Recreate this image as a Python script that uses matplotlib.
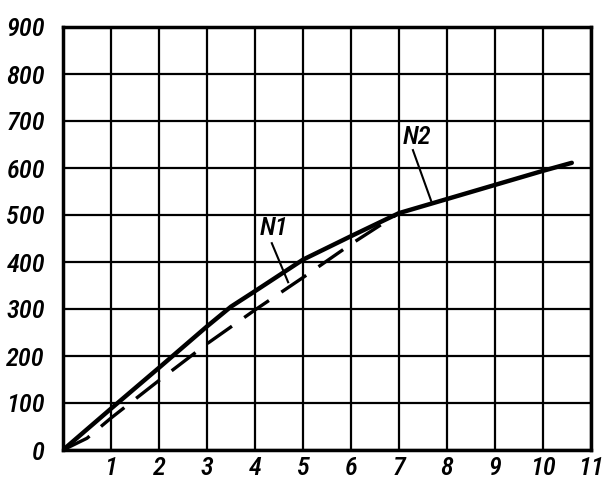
import matplotlib
matplotlib.use("Agg")
import matplotlib.pyplot as plt
from matplotlib import font_manager
from matplotlib.font_manager import FontProperties

# Data
n2_x = [0, 1, 2, 3, 3.5, 4, 5, 6, 7, 8, 9, 10, 10.6]
n2_y = [0, 88, 175, 263, 305, 338, 405, 455, 504, 534, 564, 594, 611]
n1_x = [0, 0.5, 1, 2, 3, 4, 5, 6, 7]
n1_y = [0, 25, 68, 148, 226, 298, 367, 438, 504]
x_ticks = [1, 2, 3, 4, 5, 6, 7, 8, 9, 10, 11]
y_ticks = [0, 100, 200, 300, 400, 500, 600, 700, 800, 900]
y_labels = ["0", "100", "200", "300", "400", "500", "600", "700", "800", "900"]
labels = ["N1", "N2"]

# look for a narrow/condensed sans font, italic preferred, medium weight
cands = []
for f in font_manager.fontManager.ttflist:
    nm = (f.name + " " + f.fname).lower()
    narrow = ("narrow" in nm) or ("condensed" in nm) or (str(f.stretch) in ("condensed", "semi-condensed", "extra-condensed"))
    if not narrow:
        continue
    score = 0
    if "serif" not in nm and "mono" not in nm:
        score += 8
    if f.style in ("italic", "oblique"):
        score += 4
    if "medium" in nm or "semibold" in nm:
        score += 2
    elif "bold" not in nm:
        score += 1
    if "light" in nm or "thin" in nm or "black" in nm or "extra" in nm:
        score -= 3
    cands.append((score, f.fname))
cands.sort(reverse=True)
if cands and cands[0][0] >= 8:
    fp_base = dict(fname=cands[0][1])
else:
    fp_base = dict(family="DejaVu Sans", style="italic")

def fp(size):
    return FontProperties(size=size, **fp_base)

fig = plt.figure(figsize=(6.08, 4.97), dpi=100)
ax = fig.add_axes([63/608, 47/497, (591-63)/608, (450-27)/497])
ax.set_xlim(0, 11)
ax.set_ylim(0, 900)

for xv in range(0, 12):
    ax.axvline(xv, color='black', lw=1.6, zorder=1)
for yv in y_ticks:
    ax.axhline(yv, color='black', lw=1.6, zorder=1)

ax.plot(n2_x, n2_y, color='black', lw=3.2, solid_capstyle='round', zorder=3)
ax.plot(n1_x, n1_y, color='black', lw=2.4, dashes=(9, 4.5), zorder=3)

for s in ax.spines.values():
    s.set_linewidth(2.5)
    s.set_color('black')

size = 19
ax.set_xticks(x_ticks)
ax.set_xticklabels([str(v) for v in x_ticks], fontproperties=fp(size))
ax.set_yticks(y_ticks)
ax.set_yticklabels(y_labels, fontproperties=fp(size))
ax.tick_params(axis='both', length=0)
ax.tick_params(axis='x', pad=4)
ax.tick_params(axis='y', pad=13)

# annotations
ax.text(4.4, 472, labels[0], fontproperties=fp(size), ha='center', va='center')
ax.plot([4.35, 4.69], [440, 357], color='black', lw=1.5, zorder=4)
ax.text(7.37, 666, labels[1], fontproperties=fp(size), ha='center', va='center')
ax.plot([7.29, 7.67], [638, 530], color='black', lw=1.5, zorder=4)

fig.savefig("out.png", dpi=100)
